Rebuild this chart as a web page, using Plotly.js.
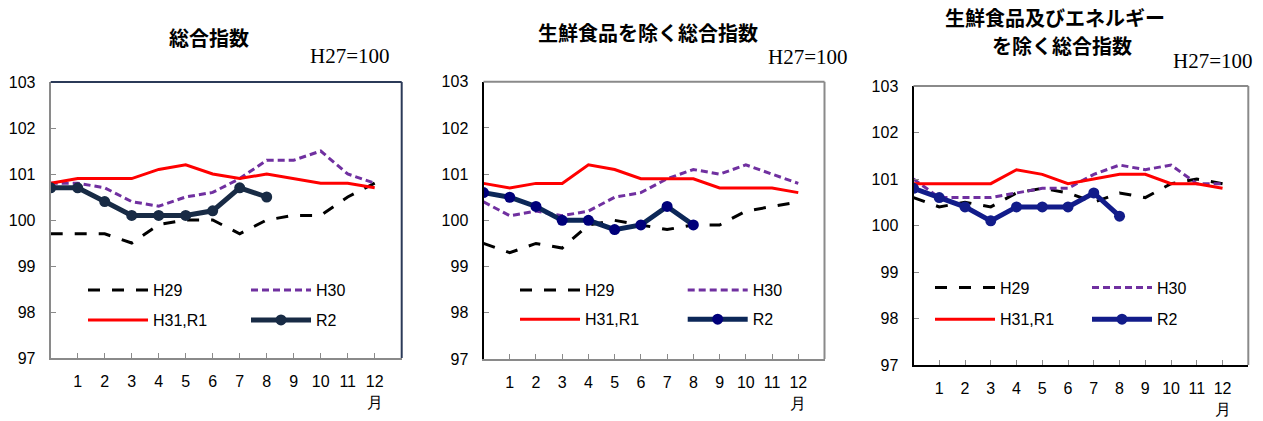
<!DOCTYPE html>
<html>
<head>
<meta charset="utf-8">
<script src="https://cdn.plot.ly/plotly-3.0.1.min.js"></script>
<style>html,body{margin:0;padding:0;background:#fff;}#chart{width:1263px;height:421px;}</style>
</head>
<body>
<div id="chart"></div>
<script>
// month positions: 0 = previous December, 1..12 = months
var monthPos = [0,1,2,3,4,5,6,7,8,9,10,11,12];
var monthTickVals = [1,2,3,4,5,6,7,8,9,10,11,12];
var monthTickText = ['1','2','3','4','5','6','7','8','9','10','11','12<br>月'];
var seriesNames = ['H29','H30','H31,R1','R2'];
var panelTitles = ['総合指数', '生鮮食品を除く総合指数', '生鮮食品及びエネルギー', 'を除く総合指数'];
var baseNote = 'H27=100';

// Panel 1: 総合指数
var p1_H29  = [99.7,99.7,99.7,99.5,99.9,100.0,100.0,99.7,100.0,100.1,100.1,100.5,100.8];
var p1_H30  = [100.8,100.8,100.7,100.4,100.3,100.5,100.6,100.9,101.3,101.3,101.5,101.0,100.8];
var p1_H31  = [100.8,100.9,100.9,100.9,101.1,101.2,101.0,100.9,101.0,100.9,100.8,100.8,100.7];
var p1_R2   = [100.7,100.7,100.4,100.1,100.1,100.1,100.2,100.7,100.5];

// Panel 2: 生鮮食品を除く総合指数
var p2_H29  = [99.5,99.3,99.5,99.4,99.9,100.0,99.9,99.8,99.9,99.9,100.2,100.3,100.4];
var p2_H30  = [100.4,100.1,100.2,100.1,100.2,100.5,100.6,100.9,101.1,101.0,101.2,101.0,100.8];
var p2_H31  = [100.8,100.7,100.8,100.8,101.2,101.1,100.9,100.9,100.9,100.7,100.7,100.7,100.6];
var p2_R2   = [100.6,100.5,100.3,100.0,100.0,99.8,99.9,100.3,99.9];

// Panel 3: 生鮮食品及びエネルギーを除く総合指数
var p3_H29  = [100.6,100.4,100.5,100.4,100.7,100.8,100.7,100.5,100.7,100.6,100.9,101.0,100.9];
var p3_H30  = [101.0,100.6,100.6,100.6,100.7,100.8,100.8,101.1,101.3,101.2,101.3,100.9,100.9];
var p3_H31  = [100.9,100.9,100.9,100.9,101.2,101.1,100.9,101.0,101.1,101.1,100.9,100.9,100.8];
var p3_R2   = [100.8,100.6,100.4,100.1,100.4,100.4,100.4,100.7,100.2];

var panels = [
  {vals:[p1_H29,p1_H30,p1_H31,p1_R2], r2Line:'#182b45', r2Marker:'#182b45'},
  {vals:[p2_H29,p2_H30,p2_H31,p2_R2], r2Line:'#0c2758', r2Marker:'#00007a'},
  {vals:[p3_H29,p3_H30,p3_H31,p3_R2], r2Line:'#121c8a', r2Marker:'#121c8a'}
];

var W = 1263, H = 421;
function px(x){ return x / W; }
function py(y){ return 1 - y / H; }

var xDomains = [[px(50.7), px(401.7)], [px(483.5), px(824.5)], [px(913.5), px(1248.3)]];
var yDomains = [[py(358), py(82)], [py(359), py(81.7)], [py(365), py(86)]];
var leftLineColors = ['#8a8a8a', '#000000', '#000000'];
var bottomLineColors = ['#8a8a8a', '#8a8a8a', '#000000'];
var frameColors = ['#2b3a58', '#8a8a8a', '#8a8a8a'];
var legendRowY = [[290, 320], [290, 319.3], [287.7, 319.3]];
var legendX = [88, 520, 935];
var legendSpacing = [158, 162.7, 152];
var ITEMW = 60;

var data = [];
var layout = {
  width: W, height: H,
  margin: {l:0, r:0, t:0, b:0},
  paper_bgcolor: '#ffffff', plot_bgcolor: '#ffffff',
  font: {family: 'Liberation Sans, Arial, sans-serif', size: 16, color: '#000'},
  showlegend: true,
  annotations: [], shapes: []
};

panels.forEach(function(p, i){
  var n = i + 1;
  var xa = 'x' + (n === 1 ? '' : n), ya = 'y' + (n === 1 ? '' : n);
  var lgA = 'legend' + (2*i + 1 === 1 ? '' : (2*i + 1));
  var lgB = 'legend' + (2*i + 2);
  var styles = [
    {color:'#000000', width:3, dash:'12px,12px'},
    {color:'#7030a0', width:3, dash:'7px,4px'},
    {color:'#ff0000', width:3, dash:'solid'},
    {color:p.r2Line, width:5, dash:'solid'}
  ];
  p.vals.forEach(function(v, k){
    var tr = {
      type:'scatter', x: monthPos.slice(0, v.length), y: v,
      name: seriesNames[k], xaxis: xa, yaxis: ya,
      legend: (k < 2 ? lgA : lgB),
      mode: (k === 3 ? 'lines+markers' : 'lines'),
      line: styles[k], hoverinfo: 'skip'
    };
    if (k === 3) tr.marker = {size: 11, color: p.r2Marker};
    data.push(tr);
  });
  var xKey = 'xaxis' + (n === 1 ? '' : n), yKey = 'yaxis' + (n === 1 ? '' : n);
  layout[xKey] = {
    domain: xDomains[i], anchor: ya, range: [0, 13], fixedrange: true,
    tickmode: 'array', tickvals: monthTickVals, ticktext: monthTickText,
    ticks: 'inside', ticklen: 5, tickcolor: '#8a8a8a', tickwidth: 1,
    showgrid: false, zeroline: false,
    showline: true, linecolor: bottomLineColors[i], linewidth: 2,
    tickfont: {size: 16, color: '#000'}, ticklabelstandoff: 8
  };
  layout[yKey] = {
    domain: yDomains[i], anchor: xa, range: [97, 103], dtick: 1, fixedrange: true,
    ticks: 'inside', ticklen: 5, tickcolor: '#8a8a8a', tickwidth: 1,
    showgrid: false, zeroline: false,
    showline: true, linecolor: leftLineColors[i], linewidth: 2,
    tickfont: {size: 16, color: '#000'}, ticklabelstandoff: 10
  };
  // top & right frame
  layout.shapes.push({type:'line', xref: xa + ' domain', yref: ya + ' domain', x0:0, x1:1, y0:1, y1:1, line:{color: frameColors[i], width:2}});
  layout.shapes.push({type:'line', xref: xa + ' domain', yref: ya + ' domain', x0:1, x1:1, y0:0, y1:1, line:{color: frameColors[i], width:2}});
  // legends (two rows of two entries)
  [lgA, lgB].forEach(function(lg, r){
    layout[lg] = {
      x: px(legendX[i] - 5), y: py(legendRowY[i][r]), xanchor: 'left', yanchor: 'middle',
      orientation: 'h', bgcolor: 'rgba(0,0,0,0)', borderwidth: 0,
      itemwidth: ITEMW, entrywidthmode: 'pixels', entrywidth: legendSpacing[i] - (ITEMW + 10),
      font: {size: 16, color: '#000', family: 'Liberation Sans, Arial, sans-serif'},
      itemclick: false, itemdoubleclick: false
    };
  });
});

// titles
var titleFont = {family:'Noto Sans CJK JP', size:20, weight:'bold', color:'#000'};
var titlePos = [[209, 38], [648, 32], [1055, 17], [1062, 45]];
panelTitles.forEach(function(t, j){
  layout.annotations.push({text: t, xref:'paper', yref:'paper', x: px(titlePos[j][0]), y: py(titlePos[j][1]),
    xanchor:'center', yanchor:'middle', showarrow:false, font: titleFont});
});
// base notes
[[350, 56], [808, 57], [1213, 61]].forEach(function(pos){
  layout.annotations.push({text: baseNote, xref:'paper', yref:'paper', x: px(pos[0]), y: py(pos[1]), xanchor:'center', yanchor:'middle', showarrow:false,
    font:{family:'Liberation Serif, serif', size:21, color:'#000'}});
});

Plotly.newPlot('chart', data, layout, {staticPlot: true, displayModeBar: false});
</script>
</body>
</html>
